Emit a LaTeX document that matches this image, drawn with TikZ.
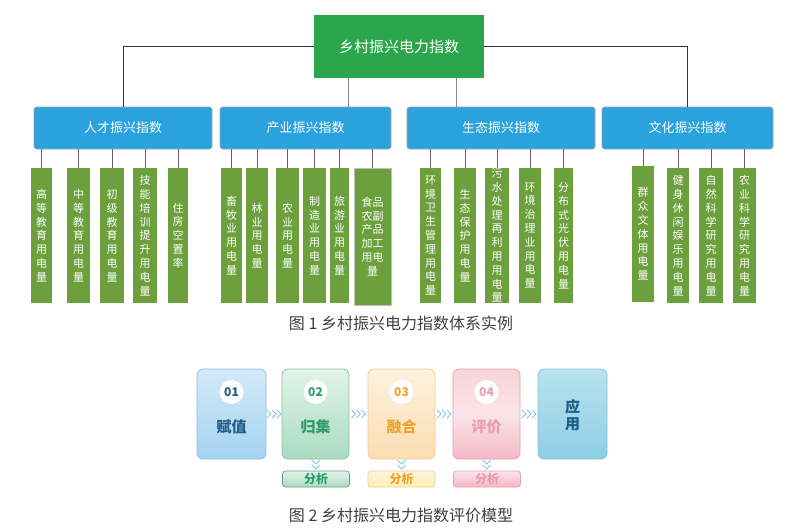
\documentclass[tikz,border=0pt]{standalone}
\usepackage{fontspec}
\newfontfamily\cjk{Noto Sans CJK SC}
\newfontfamily\song{Noto Sans CJK SC}
\definecolor{rootgreen}{HTML}{2BA64C}
\definecolor{catblue}{HTML}{2AA2DD}
\definecolor{leafgreen}{HTML}{6BA03C}
\definecolor{dkblue}{HTML}{1E5C8B}
\definecolor{chevblue}{HTML}{7EC8EA}
\definecolor{b1top}{HTML}{D3EAF8}
\definecolor{b1bot}{HTML}{A6D2F0}
\definecolor{b1brd}{HTML}{8DBEDD}
\definecolor{b2top}{HTML}{E2F3EA}
\definecolor{b2bot}{HTML}{A9DBC1}
\definecolor{b2brd}{HTML}{86C2A4}
\definecolor{b2txt}{HTML}{2E9C6B}
\definecolor{b3top}{HTML}{FEF2E0}
\definecolor{b3bot}{HTML}{FBDDB0}
\definecolor{b3brd}{HTML}{F3CC92}
\definecolor{b3txt}{HTML}{F0A22E}
\definecolor{b4top}{HTML}{F8D3DB}
\definecolor{b4bot}{HTML}{F3B8C5}
\definecolor{b4brd}{HTML}{E7A0B1}
\definecolor{b4txt}{HTML}{EC9AAD}
\definecolor{b5top}{HTML}{B8E2EF}
\definecolor{b5bot}{HTML}{8DCFE3}
\definecolor{b5brd}{HTML}{86C4D6}
\tikzset{
  rootbox/.style={fill=rootgreen, text=white, minimum width=170pt, minimum height=63pt, inner sep=0, font=\cjk\fontsize{15}{18}\selectfont},
  catbox/.style={fill=catblue, draw=black!35, line width=0.6pt, rounded corners=2.5pt, text=white, minimum height=42pt, inner sep=0, font=\cjk\fontsize{13}{16}\selectfont},
  leaf/.style={fill=leafgreen, text=white, inner sep=0, align=center, font=\cjk\fontsize{11}{13.8}\selectfont},
  darkline/.style={draw=black!80, line width=0.8pt},
  grayline/.style={draw=black!45, line width=0.8pt},
  leafline/.style={draw=black!60, line width=0.8pt},
  stage/.style={minimum width=67pt, minimum height=90pt, rounded corners=6pt, line width=0.7pt, inner sep=0},
  numcirc/.style={circle, fill=white, minimum size=24pt, inner sep=0, font=\cjk\bfseries\fontsize{12}{14}\selectfont},
  stagetext/.style={font=\cjk\bfseries\fontsize{15}{17}\selectfont, inner sep=0, align=center},
  anbox/.style={minimum width=67pt, minimum height=16pt, rounded corners=3pt, line width=0.7pt, inner sep=0, font=\cjk\bfseries\fontsize{12}{14}\selectfont},
  chev/.style={draw=chevblue, line width=1pt},
  caption/.style={font=\song\fontsize{16}{18}\selectfont, text=black!75, inner sep=0}
}
\newcommand\rchev[1]{%
  \foreach \i in {-5,0,5}{\draw[chev] ([xshift=\i pt-2pt,yshift=4pt]#1) -- ([xshift=\i pt+2pt]#1) -- ([xshift=\i pt-2pt,yshift=-4pt]#1);}}
\newcommand\dchev[1]{%
  \foreach \j in {3,-2}{\draw[chev] ([xshift=-4pt,yshift=\j pt+2pt]#1) -- ([yshift=\j pt-2pt]#1) -- ([xshift=4pt,yshift=\j pt+2pt]#1);}}
\begin{document}
\begin{tikzpicture}[x=1pt,y=-1pt]
\path[use as bounding box, fill=white] (0,0) rectangle (800,528);

% root and categories
\node[rootbox] (root) at (399,46.5) {乡村振兴电力指数};
\node[catbox, minimum width=178pt] (cat1) at (123,128) {人才振兴指数};
\node[catbox, minimum width=171pt] (cat2) at (305.5,128) {产业振兴指数};
\node[catbox, minimum width=188pt] (cat3) at (501,128) {生态振兴指数};
\node[catbox, minimum width=171pt] (cat4) at (687.5,128) {文化振兴指数};

\draw[darkline] (root.west) -| (cat1.north);
\draw[darkline] (root.east) -| (cat4.north);
\draw[grayline] ([xshift=-51pt]root.south) -- ([xshift=-51pt]root.south |- cat2.north);
\draw[grayline] ([xshift=57pt]root.south) -- ([xshift=57pt]root.south |- cat3.north);

% leaves group 1
\node[leaf, minimum width=21pt, minimum height=135pt] (a1) at (41.5,235.5) {高\\等\\教\\育\\用\\电\\量};
\node[leaf, minimum width=23pt, minimum height=135pt] (a2) at (78.5,235.5) {中\\等\\教\\育\\用\\电\\量};
\node[leaf, minimum width=24pt, minimum height=135pt] (a3) at (112,235.5) {初\\级\\教\\育\\用\\电\\量};
\node[leaf, minimum width=24pt, minimum height=135pt] (a4) at (145,235.5) {技\\能\\培\\训\\提\\升\\用\\电\\量};
\node[leaf, minimum width=20pt, minimum height=135pt] (a5) at (178,235.5) {住\\房\\空\\置\\率};
% group 2
\node[leaf, minimum width=21pt, minimum height=135pt] (b1) at (231.5,235.5) {畜\\牧\\业\\用\\电\\量};
\node[leaf, minimum width=22pt, minimum height=135pt] (b2) at (257,235.5) {林\\业\\用\\电\\量};
\node[leaf, minimum width=23pt, minimum height=135pt] (b3) at (287.5,235.5) {农\\业\\用\\电\\量};
\node[leaf, minimum width=23pt, minimum height=135pt] (b4) at (314.5,235.5) {制\\造\\业\\用\\电\\量};
\node[leaf, minimum width=19pt, minimum height=135pt] (b5) at (339.5,235.5) {旅\\游\\业\\用\\电\\量};
\node[leaf, minimum width=37pt, minimum height=137pt, draw=black!25, line width=0.5pt] (b6) at (372.5,236.5) {食品\\农副\\产品\\加工\\用电\\量};
% group 3
\node[leaf, minimum width=21pt, minimum height=135pt] (c1) at (430.5,235.5) {环\\境\\卫\\生\\管\\理\\用\\电\\量};
\node[leaf, minimum width=22pt, minimum height=135pt] (c2) at (465,235.5) {生\\态\\保\\护\\用\\电\\量};
\node[leaf, minimum width=24pt, minimum height=135pt] (c3) at (497,235.5) {污\\水\\处\\理\\再\\利\\用\\用\\电\\量};
\node[leaf, minimum width=22pt, minimum height=135pt] (c4) at (530,235.5) {环\\境\\治\\理\\业\\用\\电\\量};
\node[leaf, minimum width=19pt, minimum height=135pt] (c5) at (563.5,235.5) {分\\布\\式\\光\\伏\\用\\电\\量};
% group 4
\node[leaf, minimum width=22pt, minimum height=136pt] (d1) at (643,234) {群\\众\\文\\体\\用\\电\\量};
\node[leaf, minimum width=22pt, minimum height=135pt] (d2) at (678,235.5) {健\\身\\休\\闲\\娱\\乐\\用\\电\\量};
\node[leaf, minimum width=24pt, minimum height=135pt] (d3) at (711,235.5) {自\\然\\科\\学\\研\\究\\用\\电\\量};
\node[leaf, minimum width=23pt, minimum height=135pt] (d4) at (744.5,235.5) {农\\业\\科\\学\\研\\究\\用\\电\\量};

\foreach \l in {a1,a2,a3,a4,a5}{\draw[leafline] (\l.north) -- (\l.north |- cat1.south);}
\foreach \l in {b1,b2,b3,b4,b5,b6}{\draw[leafline] (\l.north) -- (\l.north |- cat2.south);}
\foreach \l in {c1,c2,c3,c4,c5}{\draw[leafline] (\l.north) -- (\l.north |- cat3.south);}
\foreach \l in {d1,d2,d3,d4}{\draw[leafline] (\l.north) -- (\l.north |- cat4.south);}

\node[caption] (cap1) at (401,323) {图 1 乡村振兴电力指数体系实例};

% figure 2
\node[stage, minimum width=69pt, top color=b1top, bottom color=b1bot, draw=b1brd] (s1) at (231.5,414) {};
\node[stage, top color=b2top, bottom color=b2bot, draw=b2brd] (s2) at (315.5,414) {};
\node[stage, top color=b3top, bottom color=b3bot, draw=b3brd] (s3) at (401.5,414) {};
\node[stage, top color=b4top, bottom color=b4bot, middle color=b4top!60!white, draw=b4brd] (s4) at (486.5,414) {};
\node[stage, minimum width=69pt, top color=b5top, bottom color=b5bot, draw=b5brd] (s5) at (572.5,414) {};

\node[numcirc, text=dkblue] (n1) at (231.5,392) {01};
\node[numcirc, text=b2txt] (n2) at (315.5,392) {02};
\node[numcirc, text=b3txt] (n3) at (401.5,392) {03};
\node[numcirc, text=b4txt] (n4) at (486.5,392) {04};

\node[stagetext, text=dkblue] (t1) at (231.5,427) {赋值};
\node[stagetext, text=b2txt] (t2) at (315.5,427) {归集};
\node[stagetext, text=b3txt] (t3) at (401.5,427) {融合};
\node[stagetext, text=b4txt] (t4) at (486.5,427) {评价};
\node[stagetext, text=dkblue] (t5) at (572.5,415) {应\\用};

\node[anbox, top color=b2top, bottom color=b2bot, draw=b2brd!80!black, text=b2txt] (f2) at (316,479) {分析};
\node[anbox, top color=b3top, bottom color=b3bot!70!yellow!60!white, draw=b3brd, text=b3txt] (f3) at (401.5,479) {分析};
\node[anbox, top color=b4top!60!white, bottom color=b4bot, draw=b4brd, text=b4txt] (f4) at (487,479) {分析};

\path (s1.east) -- (s2.west) coordinate[pos=0.5] (m12);
\path (s2.east) -- (s3.west) coordinate[pos=0.5] (m23);
\path (s3.east) -- (s4.west) coordinate[pos=0.5] (m34);
\path (s4.east) -- (s5.west) coordinate[pos=0.5] (m45);
\rchev{m12}\rchev{m23}\rchev{m34}\rchev{m45}

\path (s2.south) -- (f2.north) coordinate[pos=0.5] (v2);
\path (s3.south) -- (f3.north) coordinate[pos=0.5] (v3);
\path (s4.south) -- (f4.north) coordinate[pos=0.5] (v4);
\dchev{v2}\dchev{v3}\dchev{v4}

\node[caption] (cap2) at (401,515) {图 2 乡村振兴电力指数评价模型};
\end{tikzpicture}
\end{document}
